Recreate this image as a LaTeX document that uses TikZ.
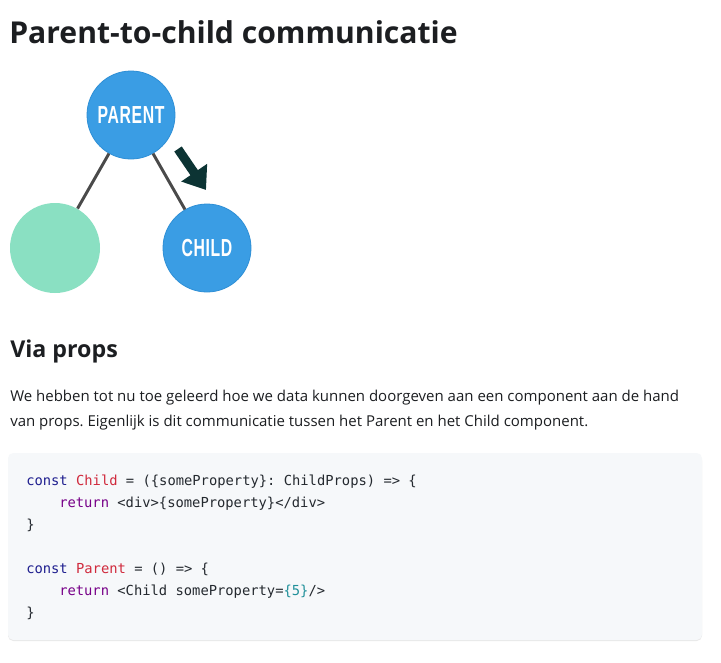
\documentclass[tikz,border=0pt]{standalone}
\usepackage{fontspec}
\setmainfont{Open Sans}
\setmonofont{DejaVu Sans Mono}
\newfontfamily\compfont[LetterSpace=4]{Liberation Sans}
\usetikzlibrary{arrows.meta,positioning}
\frenchspacing

\definecolor{nodeblue}{HTML}{3A9DE4}
\definecolor{nodeedge}{HTML}{2E8FD6}
\definecolor{nodegreen}{HTML}{8AE0C2}
\definecolor{edgegray}{HTML}{4A4A4A}
\definecolor{arrowdark}{HTML}{0C3434}
\definecolor{headblack}{HTML}{1C1E21}
\definecolor{bodytext}{HTML}{1C1E21}
\definecolor{codebg}{HTML}{F6F8FA}
\definecolor{codetext}{HTML}{24292F}
\definecolor{codekey}{HTML}{1F1F8F}
\definecolor{coderet}{HTML}{770088}
\definecolor{codename}{HTML}{D0293C}
\definecolor{codenum}{HTML}{20909A}

\newcommand{\ckey}[1]{\textcolor{codekey}{#1}}
\newcommand{\cret}[1]{\textcolor{coderet}{#1}}
\newcommand{\cname}[1]{\textcolor{codename}{#1}}
\newcommand{\cnum}[1]{\textcolor{codenum}{#1}}

\tikzset{
  comp/.style={circle, draw=nodeedge, line width=0.6pt, fill=nodeblue, text=white,
    minimum size=66pt, inner sep=0pt,
    font=\compfont\bfseries\fontsize{18.5pt}{19pt}\selectfont},
  tree/.style={draw=edgegray, line width=2.2pt},
  textline/.style={anchor=base west, inner sep=0pt, text=bodytext},
  codeline/.style={anchor=base west, inner sep=0pt, text=codetext,
    font=\ttfamily\fontsize{10.35pt}{13pt}\selectfont}
}

\begin{document}
\begin{tikzpicture}[x=0.75pt, y=-0.75pt]
  \useasboundingbox[fill=white] (0,0) rectangle (721,662);

  % Titel
  \node[textline, text=headblack, font=\fontsize{22.6pt}{28pt}\selectfont\bfseries] (title) at (9,43) {Parent-to-child communicatie};

  % De componenten
  \node[comp] (parent) at (131,115) {\raisebox{-1.2pt}{\scalebox{0.64}[1]{PARENT}}};
  \node[comp, draw=none, fill=nodegreen, minimum size=67.5pt] (sibling) at (55,248) {};
  \node[comp] (child) at (207,248) {\raisebox{-0.8pt}{\scalebox{0.64}[1]{CHILD}}};

  % De verbindingen
  \draw[tree] (parent) -- (sibling);
  \draw[tree] (parent) -- (child);

  % De pijl
  \coordinate (flowstart) at (178,149);
  \coordinate (flowtip) at (206,190);
  \draw[arrowdark, line width=6.75pt, -{Triangle[width=22.5pt, length=15.75pt]}] (flowstart) -- (flowtip);

  % Via props
  \node[textline, text=headblack, font=\fontsize{17.4pt}{22pt}\selectfont\bfseries] (via) at (10,357) {Via props};
  \node[textline, font=\fontsize{11.25pt}{14pt}\selectfont] (body1) at (10,401) {We hebben tot nu toe geleerd hoe we data kunnen doorgeven aan een component aan de hand};
  \node[textline, font=\fontsize{11.25pt}{14pt}\selectfont] (body2) at (10,426) {van props. Eigenlijk is dit communicatie tussen het Parent en het Child component.};

  % Het codeblok
  \fill[black!9, rounded corners=4pt] (8,455) rectangle (702,641);
  \fill[codebg, rounded corners=4pt] (8,453) rectangle (702,640);
  \node[codeline] (code1) at (26,485) {\ckey{const} \cname{Child} = (\{someProperty\}: ChildProps) => \{};
  \node[codeline] (code2) at (59,507) {\cret{return} <div>\{someProperty\}</div>};
  \node[codeline] (code3) at (26,529) {\}};
  \node[codeline] (code5) at (26,573) {\ckey{const} \cname{Parent} = () => \{};
  \node[codeline] (code6) at (59,595) {\cret{return} <Child someProperty=\cnum{\{5\}}/>};
  \node[codeline] (code7) at (26,617) {\}};
\end{tikzpicture}
\end{document}
